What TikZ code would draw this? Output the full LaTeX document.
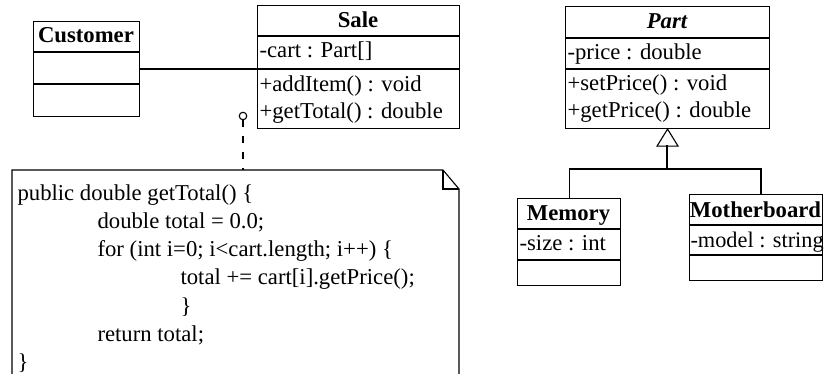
\documentclass[tikz,border=0pt]{standalone}
\usepackage{fontspec}
\setmainfont{Liberation Serif}
\begin{document}
\begin{tikzpicture}[x=1pt,y=-1pt,line width=1.1pt,
  every node/.style={font=\fontsize{22.7}{28}\selectfont},
  classbox/.style={draw,line width=1.1pt,inner sep=0pt,anchor=north west},
  member/.style={anchor=base west,inner sep=0pt},
  classname/.style={anchor=base,inner sep=0pt,font=\fontsize{22.7}{28}\selectfont\bfseries},
  codeline/.style={anchor=base west,inner sep=0pt},
  pin/.style={circle,draw,line width=1.1pt,inner sep=0pt,minimum size=7.5pt}]
\useasboundingbox (0,0) rectangle (825,374);

% Customer
\node[classbox,minimum width=106pt,minimum height=95pt] (customer) at (33,21) {};
\draw (33,52) -- (139,52) (33,84) -- (139,84);
\node[classname] (customername) at (86,43) {Customer};

% Sale
\node[classbox,minimum width=202pt,minimum height=123pt] (sale) at (257,5) {};
\draw (257,36) -- (459,36) (257,69) -- (459,69);
\node[classname] (salename) at (358,28) {Sale};
\node[member] (salecart) at (259,58) {-cart : Part[]};
\node[member] (saleadd) at (259,92) {+addItem() : void};
\node[member] (saletotal) at (259,119) {+getTotal() : double};

% association
\draw (customer.east) -- (customer.east -| sale.west);

% Part
\node[classbox,minimum width=204pt,minimum height=122pt] (part) at (565,6) {};
\draw (565,38) -- (769,38) (565,69) -- (769,69);
\node[classname,font=\fontsize{22.7}{28}\selectfont\bfseries\itshape] (partname) at (667,29) {Part};
\node[member] (partprice) at (567,60) {-price : double};
\node[member] (partset) at (567,91) {+setPrice() : void};
\node[member] (partget) at (567,118) {+getPrice() : double};

% Memory
\node[classbox,minimum width=103pt,minimum height=87pt] (memory) at (517,198) {};
\draw (517,229) -- (620,229) (517,260) -- (620,260);
\node[classname] (memoryname) at (568.5,221) {Memory};
\node[member] (memorysize) at (519,251) {-size : int};

% Motherboard
\node[classbox,minimum width=133pt,minimum height=86pt] (board) at (689,194) {};
\draw (689,225) -- (822,225) (689,255) -- (822,255);
\node[classname] (boardname) at (755.5,218) {Motherboard};
\node[member,font=\fontsize{22.3}{28}\selectfont] (boardmodel) at (690,248) {-model : string};

% generalization
\draw[fill=white] (part.south) -- ++(-10.5,17) coordinate (trileft) -- ++(21,0) -- cycle;
\coordinate (genbase) at (667,145);
\coordinate (fork) at (667,169);
\coordinate (boardtop) at (761,194);
\draw (genbase) -- (fork);
\draw (memory.north) |- (fork) -| (boardtop);

% note attached to Sale
\node[pin] (notepin) at (243,116) {};
\coordinate (notetop) at (243,170);
\draw[dash pattern=on 7pt off 9pt] (notepin.south) -- (notetop);
\draw (12,374) -- (12,170) -- (443,170) -- (459,189) -- (459,374);
\draw (443,170) -- (443,189) -- (459,189);
\node[codeline] (c1) at (17,201) {public double getTotal() \{};
\node[codeline] (c2) at (97,229) {double total = 0.0;};
\node[codeline] (c3) at (97,257) {for (int i=0; i<cart.length; i++) \{};
\node[codeline] (c4) at (180,285) {total += cart[i].getPrice();};
\node[codeline] (c5) at (180,313) {\}};
\node[codeline] (c6) at (97,341) {return total;};
\node[codeline] (c7) at (17,369) {\}};
\end{tikzpicture}
\end{document}
